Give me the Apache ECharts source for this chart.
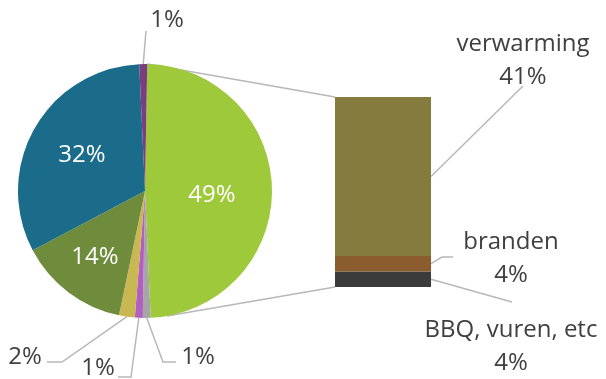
<!DOCTYPE html>
<html>
<head>
<meta charset="utf-8">
<script src="https://cdn.jsdelivr.net/npm/echarts@6/dist/echarts.min.js"></script>
<style>
  html, body { margin: 0; padding: 0; background: #ffffff; }
  #chart { width: 606px; height: 379px; }
</style>
</head>
<body>
<div id="chart"></div>
<script>
// Pie slices, clockwise starting with the slice that is split out into the bar
const pieNames = ['uitgesplitst', 'overig 1', 'overig 2', 'overig 3', 'overig 4', 'overig 5', 'overig 6'];
const pieValues = [49, 1, 1, 2, 14, 32, 1];

// Breakdown of the split-out slice, stacked bottom to top
const barNames = ['BBQ, vuren, etc', 'branden', 'verwarming'];
const barValues = [4, 4, 41];

// Styling
const pieColors = ['#9dc93b', '#a6a6a6', '#b25fbf', '#c9b751', '#6e8c3b', '#1b6b8b', '#7a3d80'];
const barColors = ['#3b3b3b', '#8a5c2e', '#857b3e'];
const textColor = '#404040';
const lineColor = '#b8b8b8';
const font = "'Open Sans', 'Noto Sans', sans-serif";

// Layout
const PIE = { cx: 145, cy: 191, r: 127, startAngle: 89 };
const GRID = { left: 335, top: 97, width: 96, height: 190 };
const BOTTOM_CONNECTOR_ANGLE = 170; // degrees clockwise from 12 o'clock

const pieLabelPos = [
  { x: 212, y: 195 },
  { x: 198, y: 357, line: [[163, 362], [176, 362]] },
  { x: 98,  y: 368, line: [[131, 377], [118, 377]] },
  { x: 25,  y: 357, line: [[62, 362], [47, 362]] },
  { x: 95,  y: 257 },
  { x: 82,  y: 155 },
  { x: 167, y: 20,  line: [[146, 31], [146, 31]] }
];
const insideSlices = [0, 4, 5];

// Bar label centres and the leader-line points after the bar edge
const barLabelPos = [
  { x: 511, y: 347, line: [[512, 302]] },
  { x: 511, y: 259, line: [[442, 257], [453, 257]] },
  { x: 523, y: 61,  line: [[523, 86]] }
];

const chart = echarts.init(document.getElementById('chart'), null, { renderer: 'canvas' });

const barTotal = barValues.reduce((a, b) => a + b, 0);

const pieData = pieValues.map((v, i) => {
  const inside = insideSlices.indexOf(i) >= 0;
  return {
    name: pieNames[i],
    value: v,
    itemStyle: { color: pieColors[i] },
    label: inside
      ? { position: 'inside', color: '#ffffff' }
      : { position: 'outside', color: textColor },
    labelLine: { show: !inside }
  };
});

const barSeries = barValues.map((v, i) => ({
  type: 'bar',
  name: barNames[i],
  stack: 'total',
  barWidth: '100%',
  silent: true,
  data: [v],
  itemStyle: { color: barColors[i] },
  label: {
    show: true,
    position: 'right',
    formatter: p => p.seriesName + '\n' + p.value + '%',
    color: textColor,
    fontFamily: font,
    fontSize: 24,
    lineHeight: 33,
    align: 'center'
  },
  labelLayout: () => {
    const L = barLabelPos[i];
    return { x: L.x, y: L.y, align: 'center', verticalAlign: 'middle' };
  }
}));

chart.setOption({
  animation: false,
  backgroundColor: '#ffffff',
  grid: { left: GRID.left, top: GRID.top, width: GRID.width, height: GRID.height },
  xAxis: { type: 'category', data: [''], show: false },
  yAxis: { type: 'value', min: 0, max: barTotal, show: false },
  series: [
    {
      type: 'pie',
      center: [PIE.cx, PIE.cy],
      radius: PIE.r,
      startAngle: PIE.startAngle,
      clockwise: true,
      silent: true,
      avoidLabelOverlap: false,
      data: pieData,
      itemStyle: { borderWidth: 0 },
      label: {
        show: true,
        formatter: '{c}%',
        fontFamily: font,
        fontSize: 24
      },
      labelLine: { lineStyle: { color: lineColor, width: 1.5 }, length: 20, length2: 10 },
      labelLayout: p => {
        const L = pieLabelPos[p.dataIndex];
        const out = { x: L.x, y: L.y, align: 'center', verticalAlign: 'middle' };
        if (L.line && p.labelLinePoints) {
          out.labelLinePoints = [p.labelLinePoints[0]].concat(L.line);
        }
        return out;
      }
    }
  ].concat(barSeries)
});

// Connector lines from the split-out slice to the bar
const yTop = chart.convertToPixel({ yAxisIndex: 0 }, barTotal);
const yBottom = chart.convertToPixel({ yAxisIndex: 0 }, 0);
const rad = d => d * Math.PI / 180;
const piePoint = deg => [PIE.cx + PIE.r * Math.sin(rad(deg)), PIE.cy - PIE.r * Math.cos(rad(deg))];
const topPt = piePoint(90 - PIE.startAngle);
const botPt = piePoint(BOTTOM_CONNECTOR_ANGLE);

const graphics = [
  { type: 'line', silent: true, z: 0, shape: { x1: topPt[0], y1: topPt[1], x2: GRID.left, y2: yTop },
    style: { stroke: lineColor, lineWidth: 1.5 } },
  { type: 'line', silent: true, z: 0, shape: { x1: botPt[0], y1: botPt[1], x2: GRID.left, y2: yBottom },
    style: { stroke: lineColor, lineWidth: 1.5 } }
];

// Leader lines from the middle of each bar segment's right edge to its label
let cum = 0;
barValues.forEach((v, i) => {
  const yMid = chart.convertToPixel({ yAxisIndex: 0 }, cum + v / 2);
  cum += v;
  const start = [GRID.left + GRID.width, yMid];
  graphics.push({
    type: 'polyline', silent: true, z: 0,
    shape: { points: [start].concat(barLabelPos[i].line) },
    style: { stroke: lineColor, lineWidth: 1.5, fill: null }
  });
});

chart.setOption({ graphic: graphics });
</script>
</body>
</html>
